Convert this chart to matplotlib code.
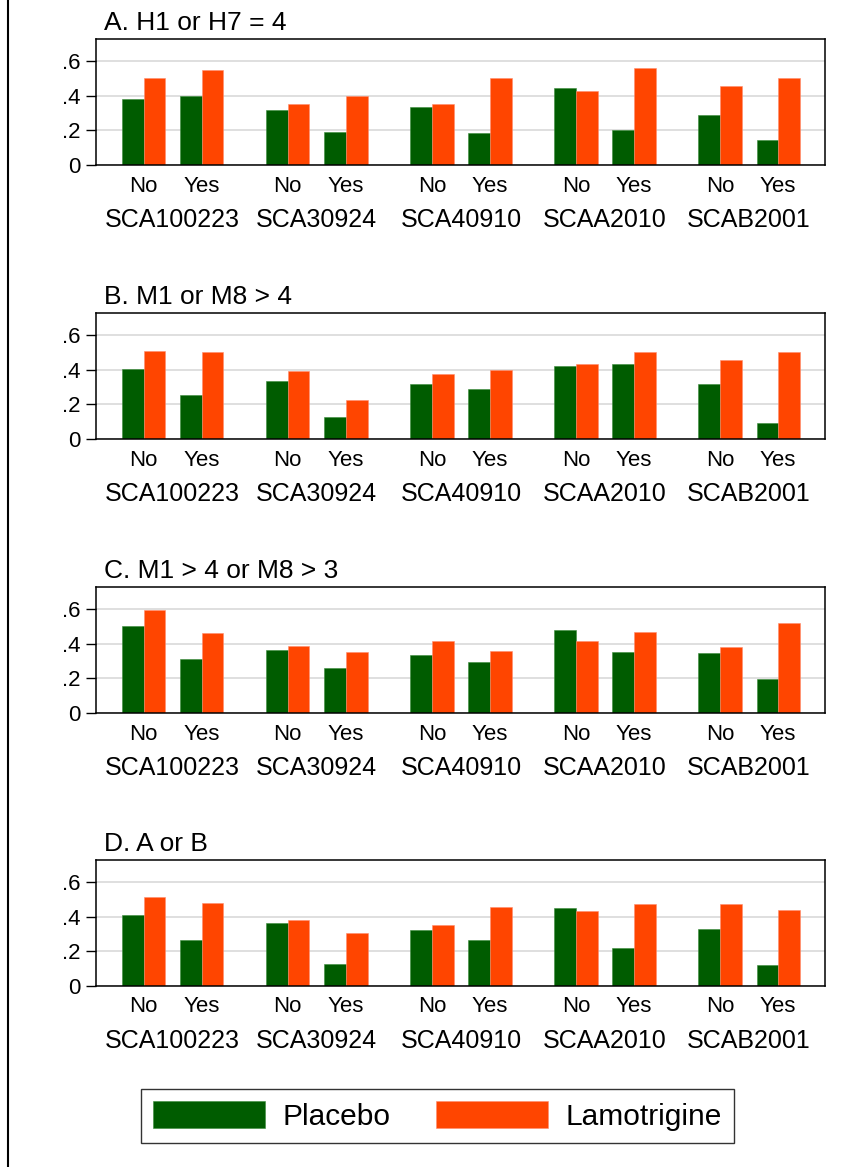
import matplotlib.pyplot as plt
from matplotlib.lines import Line2D
from matplotlib.patches import Patch

plt.rcParams['font.family'] = ['Liberation Sans', 'DejaVu Sans']

studies = ['SCA100223', 'SCA30924', 'SCA40910', 'SCAA2010', 'SCAB2001']
subgroups = ['No', 'Yes']
panel_titles = ['A. H1 or H7 = 4', 'B. M1 or M8 > 4',
                'C. M1 > 4 or M8 > 3', 'D. A or B']
ytick_vals = [0, 0.2, 0.4, 0.6]
ytick_labels = ['0', '.2', '.4', '.6']

# order: study1 No, study1 Yes, study2 No, ...
placebo_a = [0.38, 0.40, 0.315, 0.19, 0.333, 0.183, 0.442, 0.202, 0.289, 0.144]
lamotrigine_a = [0.502, 0.546, 0.354, 0.40, 0.354, 0.502, 0.427, 0.558, 0.456, 0.502]
placebo_b = [0.402, 0.254, 0.335, 0.125, 0.315, 0.288, 0.421, 0.431, 0.317, 0.094]
lamotrigine_b = [0.508, 0.504, 0.392, 0.223, 0.375, 0.396, 0.431, 0.504, 0.454, 0.504]
placebo_c = [0.504, 0.309, 0.361, 0.259, 0.332, 0.297, 0.477, 0.353, 0.347, 0.199]
lamotrigine_c = [0.592, 0.463, 0.384, 0.353, 0.417, 0.359, 0.417, 0.465, 0.380, 0.519]
placebo_d = [0.409, 0.266, 0.361, 0.129, 0.324, 0.266, 0.451, 0.218, 0.330, 0.120]
lamotrigine_d = [0.513, 0.480, 0.378, 0.303, 0.351, 0.457, 0.434, 0.475, 0.471, 0.440]

placebo_all = [placebo_a, placebo_b, placebo_c, placebo_d]
lamotrigine_all = [lamotrigine_a, lamotrigine_b, lamotrigine_c, lamotrigine_d]

green = '#005c00'
orange = '#ff4500'

W, H = 855, 1167
fig = plt.figure(figsize=(W / 100, H / 100), dpi=100)

# left frame line
fig.add_artist(Line2D([8 / W, 8 / W], [0, 1], color='black', lw=1.5,
                      transform=fig.transFigure))

ax_left, ax_w, ax_h = 96, 729, 126
tops = [39, 313, 587, 860]

# bar layout in bar-width units
group_step = 6.65
first = 1.2
pair_gap = 2.68

for p in range(4):
    top = tops[p]
    ax = fig.add_axes([ax_left / W, 1 - (top + ax_h) / H, ax_w / W, ax_h / H])
    xs, centers = [], []
    for g in range(len(studies)):
        for s in range(len(subgroups)):
            x0 = first + g * group_step + s * pair_gap
            xs.append(x0)
            centers.append(x0 + 1)
    ax.bar(xs, placebo_all[p], width=1, align='edge', color=green,
           edgecolor='#3c8c3c', linewidth=0.4, zorder=3)
    ax.bar([x + 1 for x in xs], lamotrigine_all[p], width=1, align='edge',
           color=orange, edgecolor='#ff8c6e', linewidth=0.4, zorder=3)
    ax.set_xlim(0, ax_w / 21.67)
    ax.set_ylim(0, 0.727)
    ax.set_yticks(ytick_vals)
    ax.set_yticklabels(ytick_labels, fontsize=16)
    ax.tick_params(axis='y', length=7.2, width=1, pad=4.0)
    ax.set_xticks([])
    ax.yaxis.grid(True, color='#dcdcdc', lw=1.3, zorder=0)
    for sp in ax.spines.values():
        sp.set_linewidth(1.1)
        sp.set_zorder(4)
    for i, c in enumerate(centers):
        ax.annotate(subgroups[i % 2], xy=(c, 0), xycoords=('data', 'axes fraction'),
                    xytext=(0, -21 * 0.72), textcoords='offset points',
                    ha='center', va='center', fontsize=16)
    for g, name in enumerate(studies):
        c = first + g * group_step + (pair_gap + 2) / 2
        ax.annotate(name, xy=(c, 0), xycoords=('data', 'axes fraction'),
                    xytext=(0, -55 * 0.72), textcoords='offset points',
                    ha='center', va='center', fontsize=18)
    fig.text(104 / W, 1 - (top - 9) / H, panel_titles[p], fontsize=19,
             ha='left', va='baseline')

handles = [Patch(facecolor=green, edgecolor='#3c8c3c', lw=0.4),
           Patch(facecolor=orange, edgecolor='#ff8c6e', lw=0.4)]
leg = fig.legend(handles, ['Placebo', 'Lamotrigine'], loc='center',
                 bbox_to_anchor=(437.5 / W, 1 - 1116 / H), ncol=2,
                 fontsize=21.5, frameon=True, fancybox=False, edgecolor='black',
                 handlelength=3.75, handleheight=1.0, handletextpad=0.6,
                 columnspacing=1.5, borderpad=0.4)
leg.get_frame().set_linewidth(1.0)

fig.savefig('out.png', dpi=100)
